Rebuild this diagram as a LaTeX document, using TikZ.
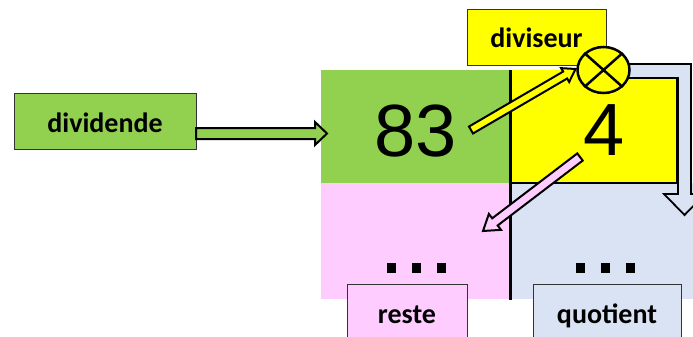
\documentclass[tikz,border=0pt]{standalone}
\usepackage{fontspec}
\setmainfont{Carlito}
\newfontfamily\numfont{Liberation Sans}
\usetikzlibrary{calc,shapes.geometric}

\definecolor{cellgreen}{HTML}{92D050}
\definecolor{cellpink}{HTML}{FFCCFF}
\definecolor{cellblue}{HTML}{DAE3F3}
\definecolor{cellyellow}{HTML}{FFFF00}

\tikzset{
  cell/.style={rectangle, inner sep=0pt, outer sep=0pt},
  tag/.style={draw=black!80, line width=0.9pt, inner sep=0pt, minimum height=56pt,
              text height=22pt, text depth=0pt, font=\bfseries\fontsize{28}{30}\selectfont},
  digits/.style={font=\numfont\fontsize{74}{80}\selectfont, inner sep=0pt},
  sqdot/.style={fill=black, minimum width=9pt, minimum height=10pt, inner sep=0pt},
  blk/.style={draw=black, line width=2pt, line join=miter},
}

% block arrow: #1 style, #2 tail, #3 tip, #4 shaft half-width,
% #5 head half-width, #6 head length, #7 name of the head base
\newcommand\blockarrow[7]{%
  \coordinate (#7) at ($(#3)!#6!(#2)$);
  \draw[#1] ($(#2)!#4!90:(#3)$) -- ($(#7)!#4!90:(#3)$) -- ($(#7)!#5!90:(#3)$)
    -- (#3) -- ($(#7)!#5!-90:(#3)$) -- ($(#7)!#4!-90:(#3)$)
    -- ($(#2)!#4!-90:(#3)$) -- cycle;
}

\begin{document}
\begin{tikzpicture}[x=1pt, y=-1pt]
\useasboundingbox (0,0) rectangle (693,337);
\clip (0,0) rectangle (693,337);

% the four cells of the division
\node[cell, fill=cellgreen,  minimum width=189pt, minimum height=113pt] (dvd)  at (415.5,126.5) {};
\node[cell, fill=cellyellow, minimum width=167pt, minimum height=113pt] (dvs)  at (593.5,126.5) {};
\node[cell, fill=cellpink,   minimum width=189pt, minimum height=116pt] (rst)  at (415.5,241) {};
\node[cell, fill=cellblue,   minimum width=183pt, minimum height=116pt] (quo)  at (601.5,241) {};

% border of the divisor cell and the vertical bar
\draw[line width=2.5pt] (dvs.north east) -- (dvs.south east) -- (dvs.south west);
\draw[line width=3pt] (dvd.north east) -- ($(rst.south east)+(0,1)$);

% arrow carrying the product down into the quotient cell
\coordinate (qin) at (684.5,215);
\draw[blk, fill=cellblue, line width=1.8pt]
  (612,64) -- (691,64) -- (691,194) -- (705,194) -- (qin) -- (664,194)
  -- (678,194) -- (678,78) -- (612,78) -- cycle;

% the dots
\node[sqdot] (r1) at (391.5,268) {};
\node[sqdot] (r2) at (416.5,268) {};
\node[sqdot] (r3) at (441.5,268) {};
\node[sqdot] (q1) at (580,267.5) {};
\node[sqdot] (q2) at (605,267.5) {};
\node[sqdot] (q3) at (630,267.5) {};

% labels
\node[tag, fill=cellgreen,  minimum width=182pt] (ldvd) at (105,121)   {dividende};
\node[tag, fill=cellyellow, minimum width=139pt] (ldvs) at (536.5,37)  {diviseur};
\node[tag, fill=cellpink,   minimum width=120pt] (lrst) at (407,312)   {reste};
\node[tag, fill=cellblue,   minimum width=148pt] (lquo) at (607,312)   {quotient};

% numbers
\node[digits] (n83) at (416,131.5) {83};
\node[digits] (n4)  at (604.5,130) {4};

% multiplication sign
\node[ellipse, draw, fill=cellyellow, line width=2.5pt, minimum width=52pt,
      minimum height=46pt, inner sep=0pt] (mul) at (603.5,70) {};
\draw[line width=2.5pt] (mul.north west) -- (mul.south east)
                        (mul.north east) -- (mul.south west);

% arrows
\coordinate (a1) at (196,133.5);
\coordinate (a2) at (327,133.5);
\blockarrow{blk, fill=cellgreen}{a1}{a2}{5.5pt}{11.5pt}{12pt}{a3}

\coordinate (b1) at (471,130);
\coordinate (b2) at (575.5,69);
\blockarrow{blk, fill=cellyellow}{b1}{b2}{4pt}{8pt}{12pt}{b3}

\coordinate (c1) at (580,157);
\coordinate (c2) at (483,231);
\blockarrow{blk, fill=cellpink}{c1}{c2}{4.5pt}{10pt}{15pt}{c3}
\end{tikzpicture}
\end{document}
